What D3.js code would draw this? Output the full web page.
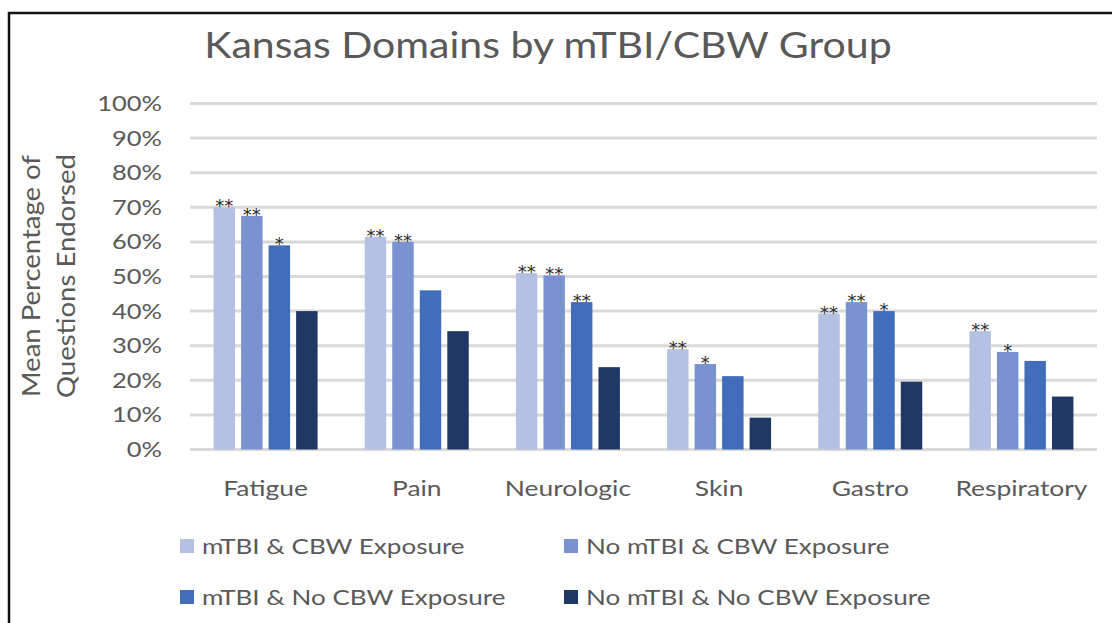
<!DOCTYPE html>
<html>
<head>
<meta charset="utf-8">
<script src="https://cdn.jsdelivr.net/npm/d3@7"></script>
<style>
  body { margin: 0; background: #fff; }
  svg { display: block; font-family: Lato, "Open Sans", sans-serif; }
</style>
</head>
<body>
<div id="chart"></div>
<script>
// chart values
const categories = ["Fatigue", "Pain", "Neurologic", "Skin", "Gastro", "Respiratory"];
const seriesNames = ["mTBI & CBW Exposure", "No mTBI & CBW Exposure", "mTBI & No CBW Exposure", "No mTBI & No CBW Exposure"];
const seriesColors = ["#b4c1e3", "#7a93d0", "#426dbb", "#203864"];

const mtbiCbw     = [70.0, 61.5, 51.0, 29.0, 39.3, 34.2];
const noMtbiCbw   = [67.5, 60.0, 50.3, 24.7, 42.6, 28.2];
const mtbiNoCbw   = [59.0, 46.0, 42.6, 21.2, 40.0, 25.6];
const noMtbiNoCbw = [40.0, 34.2, 23.8, 9.2, 19.6, 15.3];
const seriesValues = [mtbiCbw, noMtbiCbw, mtbiNoCbw, noMtbiNoCbw];

// significance markers per series, per category
const sigMtbiCbw     = ["**", "**", "**", "**", "**", "**"];
const sigNoMtbiCbw   = ["**", "**", "**", "*", "**", "*"];
const sigMtbiNoCbw   = ["*", "", "**", "", "*", ""];
const sigNoMtbiNoCbw = ["", "", "", "", "", ""];
const seriesSig = [sigMtbiCbw, sigNoMtbiCbw, sigMtbiNoCbw, sigNoMtbiNoCbw];

const yTicks = [0, 10, 20, 30, 40, 50, 60, 70, 80, 90, 100];

const W = 1112, H = 623;
const textColor = "#595959";

const svg = d3.select("#chart").append("svg")
    .attr("width", W)
    .attr("height", H);

svg.append("rect")
    .attr("width", W).attr("height", H)
    .attr("fill", "#fff");

// frame of the pasted chart (runs off the right and bottom edges)
svg.append("rect")
    .attr("x", 9).attr("y", 13)
    .attr("width", 1200).attr("height", 700)
    .attr("fill", "none")
    .attr("stroke", "#111")
    .attr("stroke-width", 2.5);

// the source text looks stretched sideways, so each label gets a horizontal scale
var label = function(x, y, text, size, anchor, sx){
    return svg.append("text")
        .attr("transform", `translate(${x},${y}) scale(${sx || 1},1)`)
        .attr("text-anchor", anchor || "middle")
        .attr("font-size", size)
        .attr("fill", textColor)
        .text(text);
}

const plot = { left: 190, right: 1097, top: 103.5, bottom: 449.5 };

const y = d3.scaleLinear().domain([0, 100]).range([plot.bottom, plot.top]);
const x0 = d3.scaleBand().domain(categories).range([plot.left, plot.right])
    .paddingInner(0.312).paddingOuter(0.156);
const x1 = d3.scaleBand().domain(d3.range(seriesNames.length)).range([0, x0.bandwidth()])
    .paddingInner(0.22);

// title
label(W / 2 - 8, 58, "Kansas Domains by mTBI/CBW Group", 36, "middle", 1.14);

// gridlines
svg.append("g").selectAll("line")
    .data(yTicks)
    .enter()
    .append("line")
    .attr("x1", plot.left).attr("x2", plot.right)
    .attr("y1", d => y(d)).attr("y2", d => y(d))
    .attr("stroke", "#d9d9d9")
    .attr("stroke-width", 3);

// y tick labels
yTicks.forEach(t => {
    label(162, y(t) + 7.5, t + "%", 22, "end", 1.16);
});

// y axis title (two lines)
svg.append("text")
    .attr("transform", "translate(40,276) rotate(-90) scale(1.1,1)")
    .attr("text-anchor", "middle")
    .attr("font-size", 25)
    .attr("fill", textColor)
    .text("Mean Percentage of");
svg.append("text")
    .attr("transform", "translate(75,276) rotate(-90) scale(1.1,1)")
    .attr("text-anchor", "middle")
    .attr("font-size", 25)
    .attr("fill", textColor)
    .text("Questions Endorsed");

// bars
const groups = svg.append("g").selectAll("g")
    .data(categories)
    .enter()
    .append("g")
    .attr("transform", d => `translate(${x0(d)},0)`);

const cells = (c, ci) => seriesValues.map((vals, si) => ({ si: si, v: vals[ci], sig: seriesSig[si][ci] }));

groups.selectAll("rect")
    .data(cells)
    .enter()
    .append("rect")
    .attr("x", d => x1(d.si))
    .attr("y", d => y(d.v))
    .attr("width", x1.bandwidth())
    .attr("height", d => y(0) - y(d.v))
    .attr("fill", d => seriesColors[d.si]);

groups.selectAll("text.sig")
    .data(cells)
    .enter()
    .append("text")
    .attr("class", "sig")
    .attr("x", d => x1(d.si) + x1.bandwidth() / 2)
    .attr("y", d => y(d.v) + 5)
    .attr("text-anchor", "middle")
    .attr("font-family", "DejaVu Sans, sans-serif")
    .attr("font-size", 18)
    .attr("fill", "#2b2b2b")
    .text(d => d.sig);

// category labels
categories.forEach(c => {
    label(x0(c) + x0.bandwidth() / 2, 496, c, 22, "middle", 1.2);
});

// legend
const legendPos = [[180, 546], [564, 546], [180, 597], [564, 597]];
seriesNames.forEach((name, i) => {
    const p = legendPos[i];
    svg.append("rect")
        .attr("x", p[0]).attr("y", p[1] - 7)
        .attr("width", 14).attr("height", 14)
        .attr("fill", seriesColors[i]);
    label(p[0] + 22, p[1] + 7.5, name, 21, "start", 1.24);
});
</script>
</body>
</html>
